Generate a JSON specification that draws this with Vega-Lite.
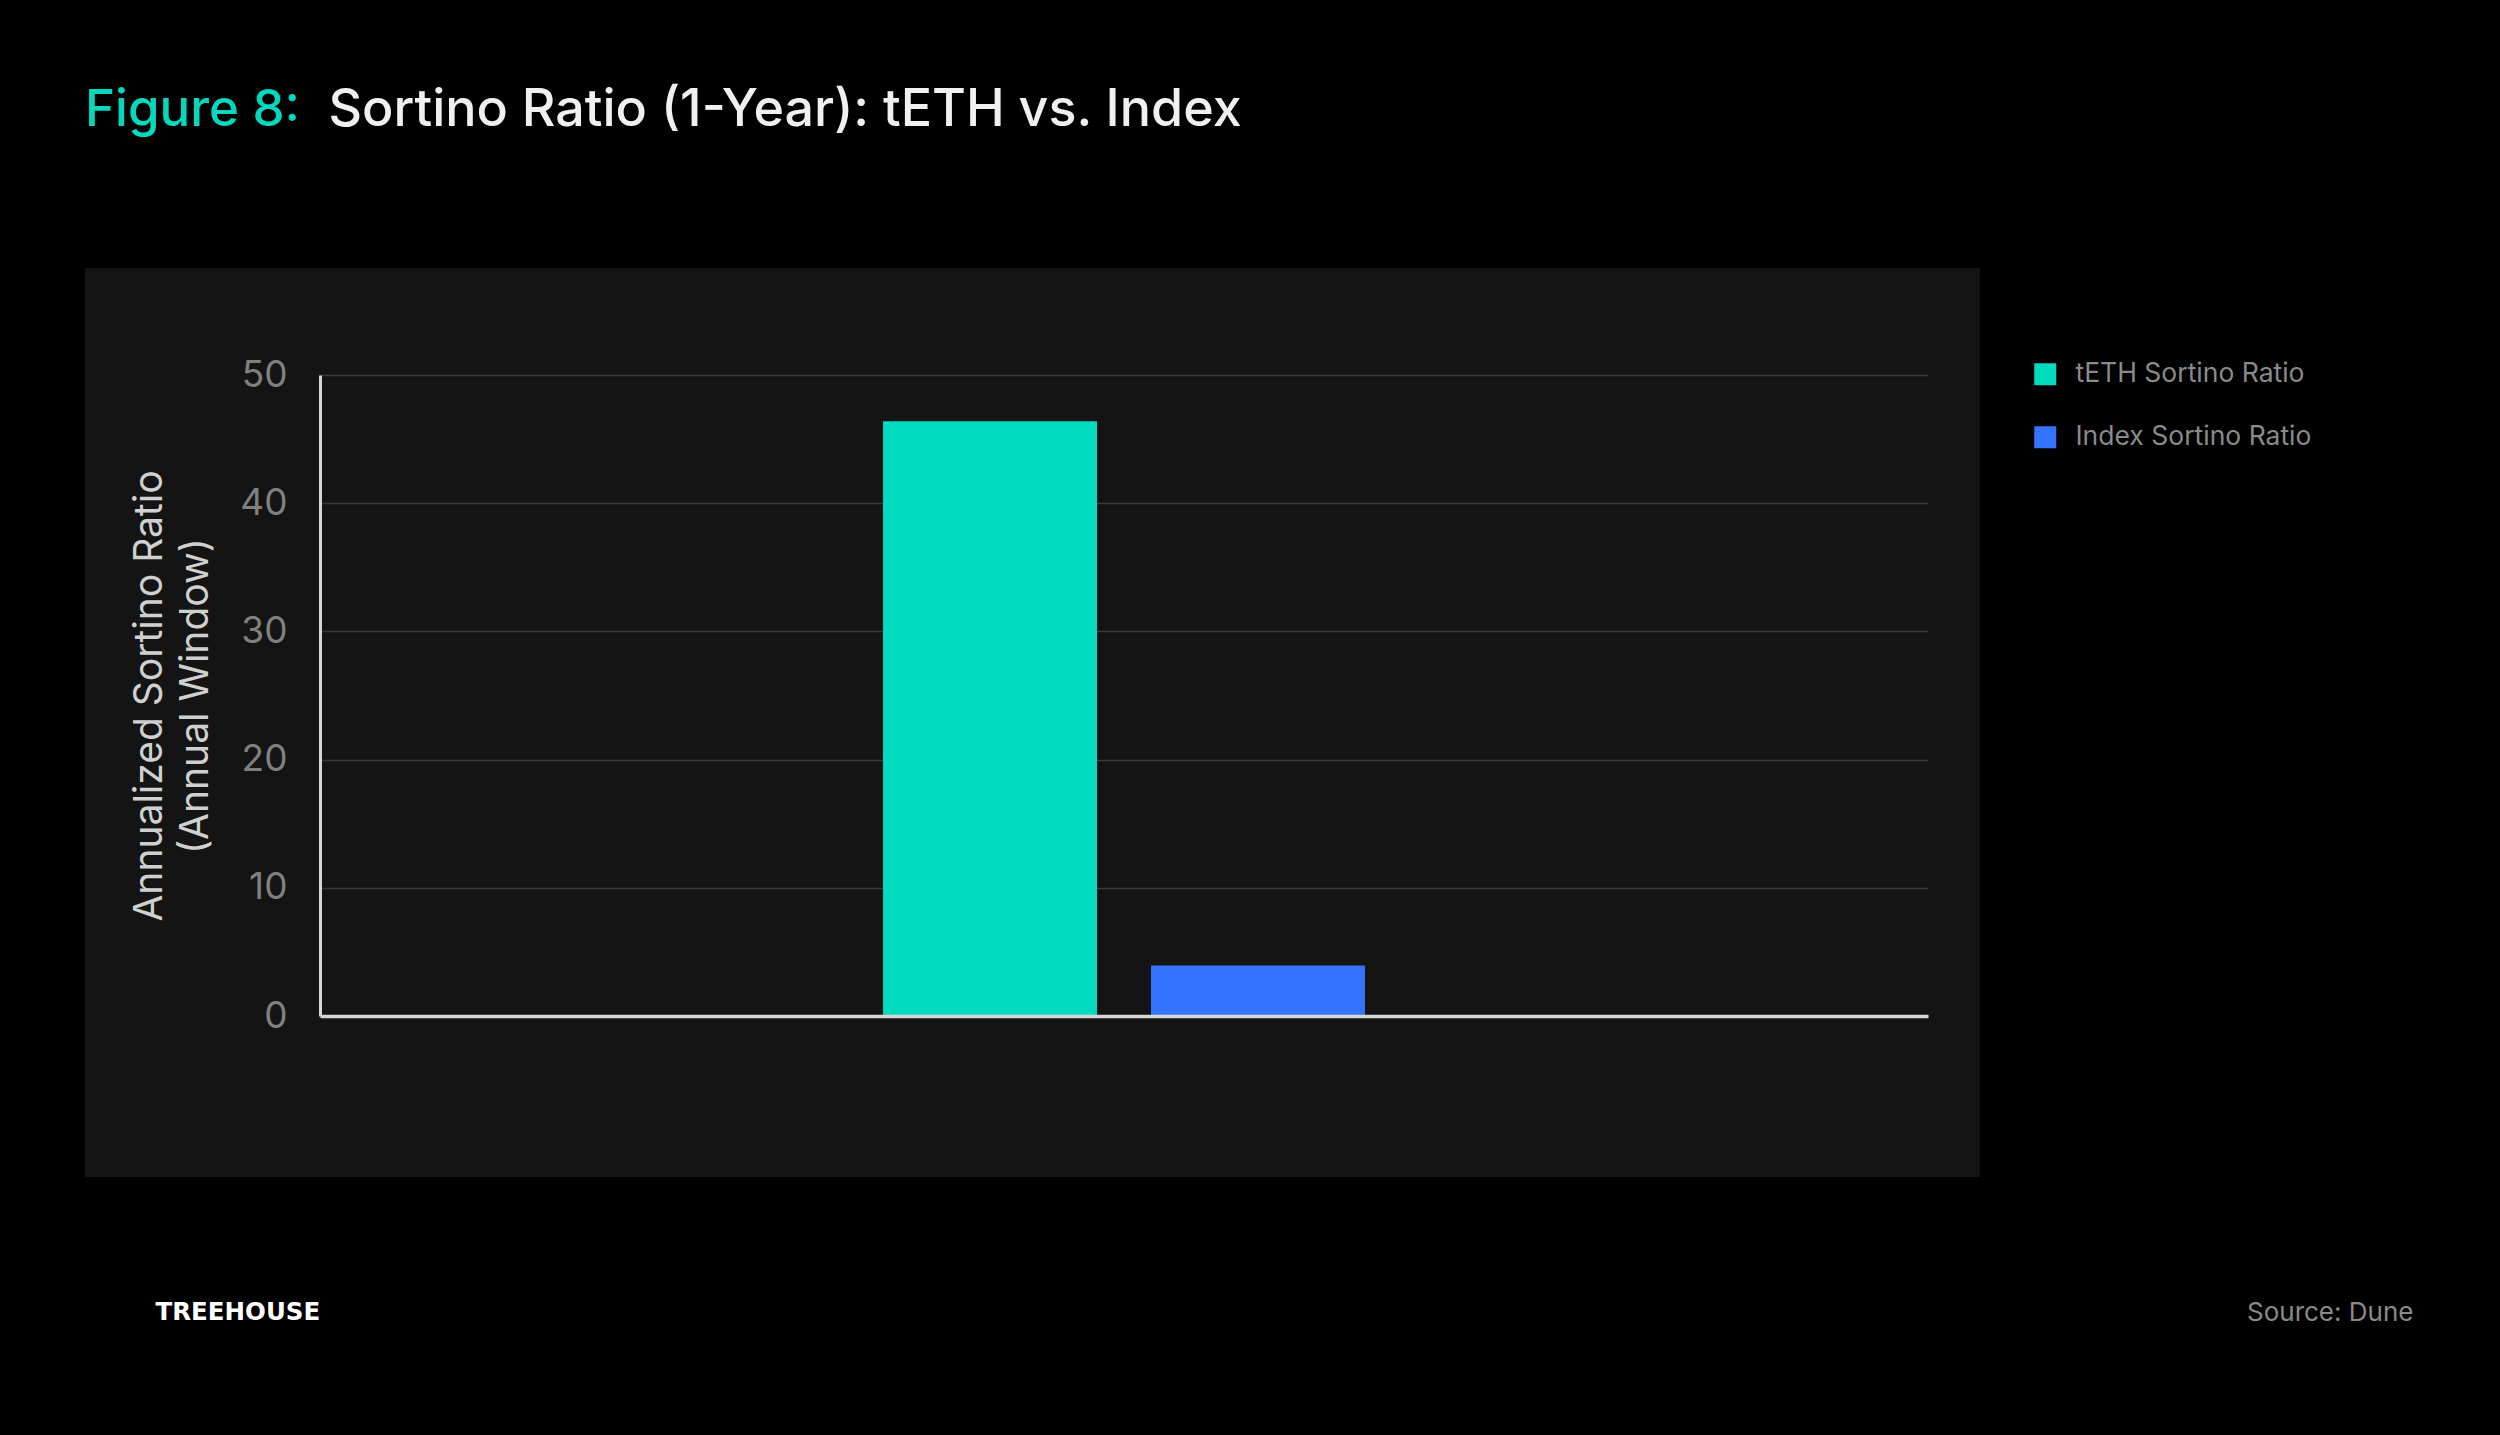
{
  "$schema": "https://vega.github.io/schema/vega-lite/v6.json",
  "width": 1895,
  "height": 909,
  "autosize": {"type": "none"},
  "padding": {"left": 85, "top": 268, "right": 520, "bottom": 258},
  "background": "#000000",
  "title": {
    "text": "Figure 8:",
    "anchor": "start",
    "frame": "group",
    "color": "#00d9be",
    "font": "Inter",
    "fontSize": 51,
    "fontWeight": 500,
    "offset": -54
  },
  "config": {
    "view": {"fill": "#141414", "stroke": null},
    "font": "Inter"
  },
  "data": {
    "values": [
      {"window": "1-Year", "series": "tETH Sortino Ratio", "sortino": 46.4},
      {"window": "1-Year", "series": "Index Sortino Ratio", "sortino": 3.93}
    ]
  },
  "layer": [
    {
      "mark": {"type": "bar"},
      "encoding": {
        "x": {
          "field": "window",
          "type": "nominal",
          "scale": {"range": [235, 1843], "paddingInner": 0.144, "paddingOuter": 1},
          "axis": {
            "orient": "bottom",
            "offset": -161,
            "labels": false,
            "ticks": false,
            "domain": true,
            "domainColor": "#d6d6d6",
            "domainWidth": 3.5,
            "grid": false,
            "title": "Source: Dune",
            "titleX": 2328,
            "titleY": 304,
            "titleAlign": "right",
            "titleBaseline": "alphabetic",
            "titleColor": "#8a8a8a",
            "titleFont": "Inter",
            "titleFontSize": 26,
            "titleFontWeight": 400,
            "zindex": 2
          }
        },
        "xOffset": {
          "field": "series",
          "type": "nominal",
          "sort": ["tETH Sortino Ratio", "Index Sortino Ratio"],
          "scale": {"paddingInner": 0.2015, "paddingOuter": 0}
        },
        "y": {
          "field": "sortino",
          "type": "quantitative",
          "scale": {"domain": [0, 50], "range": [748, 107], "nice": false, "zero": true},
          "axis": {
            "orient": "left",
            "offset": -235,
            "values": [0, 10, 20, 30, 40, 50],
            "labelColor": "#808080",
            "labelFont": "Inter",
            "labelFontSize": 37,
            "labelPadding": 33,
            "ticks": false,
            "tickSize": 0,
            "domainColor": "#d6d6d6",
            "domainWidth": 3,
            "grid": true,
            "gridColor": "#3a3a3a",
            "gridWidth": 1.5,
            "title": ["Annualized Sortino Ratio", "(Annual Window)"],
            "titleColor": "#d0d0d0",
            "titleFont": "Inter",
            "titleFontSize": 39,
            "titleFontWeight": 400,
            "titleLineHeight": 46,
            "titlePadding": 24,
            "zindex": 0
          }
        },
        "color": {
          "field": "series",
          "type": "nominal",
          "sort": ["tETH Sortino Ratio", "Index Sortino Ratio"],
          "scale": {"domain": ["tETH Sortino Ratio", "Index Sortino Ratio"], "range": ["#00dbbe", "#3574ff"]},
          "legend": {
            "orient": "none",
            "legendX": 1947,
            "legendY": 93,
            "title": null,
            "symbolType": "square",
            "symbolSize": 484,
            "symbolStrokeWidth": 0,
            "labelFont": "Inter",
            "labelFontSize": 26.5,
            "labelColor": "#8a8a8a",
            "labelOffset": 17,
            "labelLimit": 500,
            "rowPadding": 36,
            "padding": 0
          }
        }
      }
    },
    {
      "mark": {"type": "bar", "opacity": 0},
      "encoding": {
        "x": {
          "field": "window",
          "type": "nominal",
          "axis": {
            "orient": "top",
            "labels": false,
            "ticks": false,
            "domain": false,
            "grid": false,
            "title": "Sortino Ratio (1-Year): tETH vs. Index",
            "titleX": 243,
            "titleY": -143,
            "titleAlign": "left",
            "titleBaseline": "alphabetic",
            "titleColor": "#f0f0f0",
            "titleFont": "Inter",
            "titleFontSize": 52,
            "titleFontWeight": 500,
            "titleAngle": 0
          }
        },
        "y": {
          "field": "sortino",
          "type": "quantitative",
          "axis": {
            "orient": "right",
            "labels": false,
            "ticks": false,
            "domain": false,
            "grid": false,
            "title": "TREEHOUSE",
            "titleAngle": 0,
            "titleX": -1825,
            "titleY": 1051,
            "titleAlign": "left",
            "titleBaseline": "alphabetic",
            "titleColor": "#ffffff",
            "titleFont": "DejaVu Sans",
            "titleFontSize": 24.5,
            "titleFontWeight": 700
          }
        }
      }
    }
  ],
  "resolve": {"axis": {"x": "independent", "y": "independent"}}
}
